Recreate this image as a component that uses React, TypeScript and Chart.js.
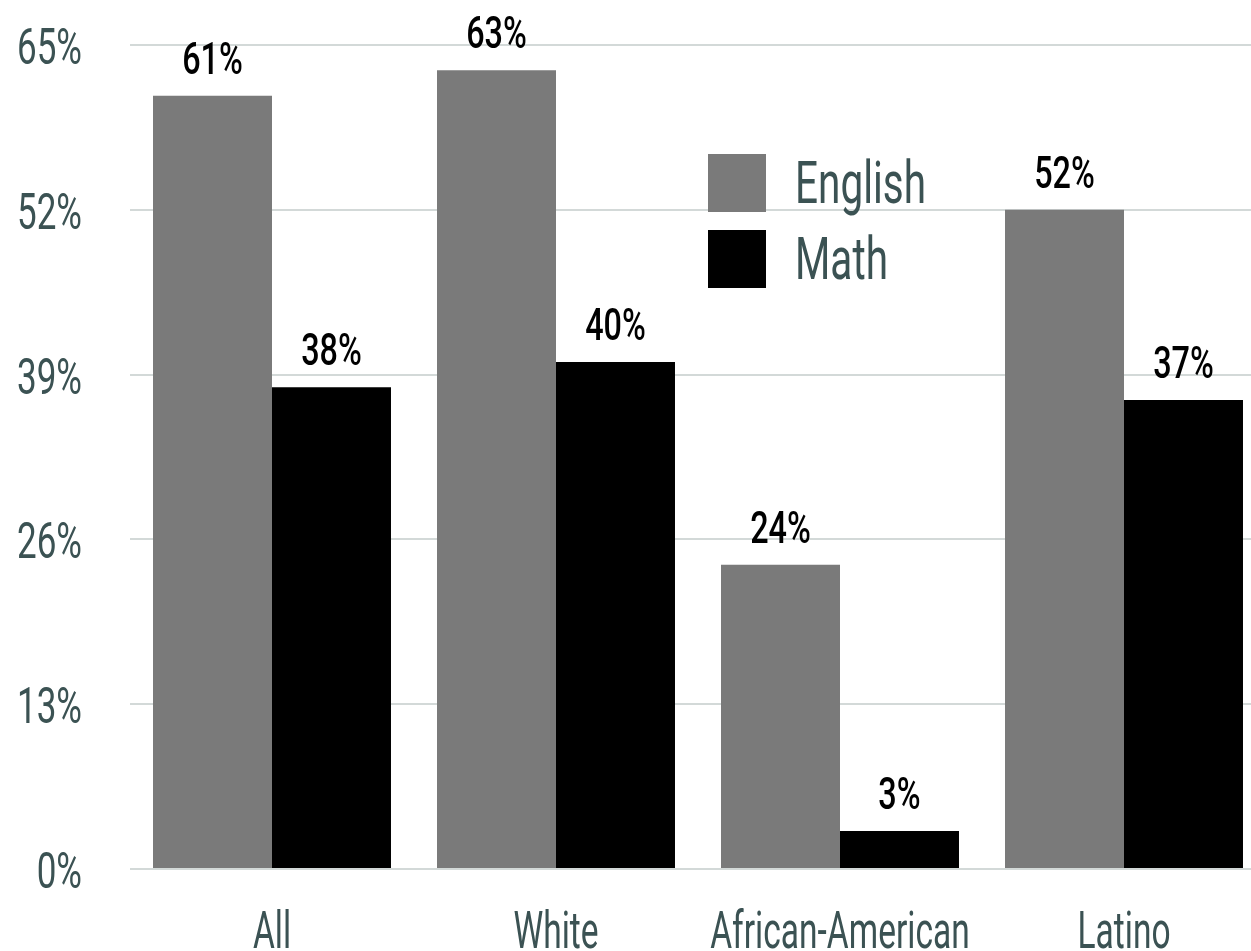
import React, { useEffect, useRef } from "react";
import { Chart, registerables } from "chart.js";

Chart.register(...registerables);

const categories = ["All", "White", "African-American", "Latino"];
const seriesNames = ["English", "Math"];
const englishValues = [61, 63, 24, 52];
const mathValues = [38, 40, 3, 37];
const yTickValues = [0, 13, 26, 39, 52, 65];

const FONT = "Roboto, 'Liberation Sans', sans-serif";
const LABEL_COLOR = "#3b5253";

function drawText(
  ctx: CanvasRenderingContext2D,
  text: string,
  x: number,
  y: number,
  size: number,
  color: string,
  align: CanvasTextAlign,
  sx: number,
  weight = "normal"
) {
  ctx.save();
  ctx.font = `${weight} ${size}px ${FONT}`;
  ctx.fillStyle = color;
  ctx.textBaseline = "alphabetic";
  ctx.textAlign = align;
  ctx.translate(x, y);
  ctx.scale(sx, 1);
  ctx.fillText(text, 0, 0);
  ctx.restore();
}

const textPlugin = {
  id: "customText",
  afterDatasetsDraw(chart: any) {
    const ctx = chart.ctx as CanvasRenderingContext2D;
    const yScale = chart.scales.y;
    const xScale = chart.scales.x;
    yScale.ticks.forEach((t: any) => {
      const py = yScale.getPixelForValue(t.value);
      drawText(ctx, `${t.value}%`, 82, py + 19, 50, LABEL_COLOR, "right", 0.7);
    });
    chart.data.labels.forEach((lab: string, i: number) => {
      const px = xScale.getPixelForValue(i);
      drawText(ctx, lab, px, 948, 52, LABEL_COLOR, "center", 0.645);
    });
    chart.data.datasets.forEach((ds: any, di: number) => {
      const meta = chart.getDatasetMeta(di);
      meta.data.forEach((bar: any, i: number) => {
        drawText(ctx, `${ds.data[i]}%`, bar.x, bar.y - 22, 45, "#000000", "center", 0.72, "500");
      });
    });
    chart.data.datasets.forEach((ds: any, di: number) => {
      const top = 154 + di * 76;
      ctx.save();
      ctx.fillStyle = ds.backgroundColor;
      ctx.fillRect(708, top, 58, 58);
      ctx.restore();
      drawText(ctx, ds.label, 795, top + 49, 60, LABEL_COLOR, "left", 0.675);
    });
  },
};

export default function App() {
  const canvasRef = useRef<HTMLCanvasElement | null>(null);

  useEffect(() => {
    if (!canvasRef.current) return;
    const chart = new Chart(canvasRef.current, {
      type: "bar",
      data: {
        labels: categories,
        datasets: [
          {
            label: seriesNames[0],
            data: englishValues,
            backgroundColor: "#7a7a7a",
            barPercentage: 1,
            categoryPercentage: 0.838,
          },
          {
            label: seriesNames[1],
            data: mathValues,
            backgroundColor: "#000000",
            barPercentage: 1,
            categoryPercentage: 0.838,
          },
        ],
      },
      options: {
        responsive: false,
        animation: false,
        layout: { padding: { left: 130, right: 14, top: 45, bottom: 82 } },
        plugins: {
          legend: { display: false },
          tooltip: { enabled: false },
        },
        scales: {
          x: {
            ticks: { display: false },
            grid: { display: false, drawTicks: false },
            border: { display: false },
          },
          y: {
            min: 0,
            max: 65,
            afterBuildTicks: (scale: any) => {
              scale.ticks = yTickValues.map((v) => ({ value: v }));
            },
            ticks: { display: false },
            grid: { color: "#d3d9d8", lineWidth: 2, drawTicks: false },
            border: { display: false },
          },
        },
      },
      plugins: [textPlugin],
    });
    return () => chart.destroy();
  }, []);

  return (
    <div
      style={{
        position: "fixed",
        left: 0,
        top: 0,
        width: 1251,
        height: 951,
        overflow: "hidden",
        background: "#ffffff",
      }}
    >
      <canvas ref={canvasRef} width={1280} height={951} style={{ display: "block" }} />
    </div>
  );
}
